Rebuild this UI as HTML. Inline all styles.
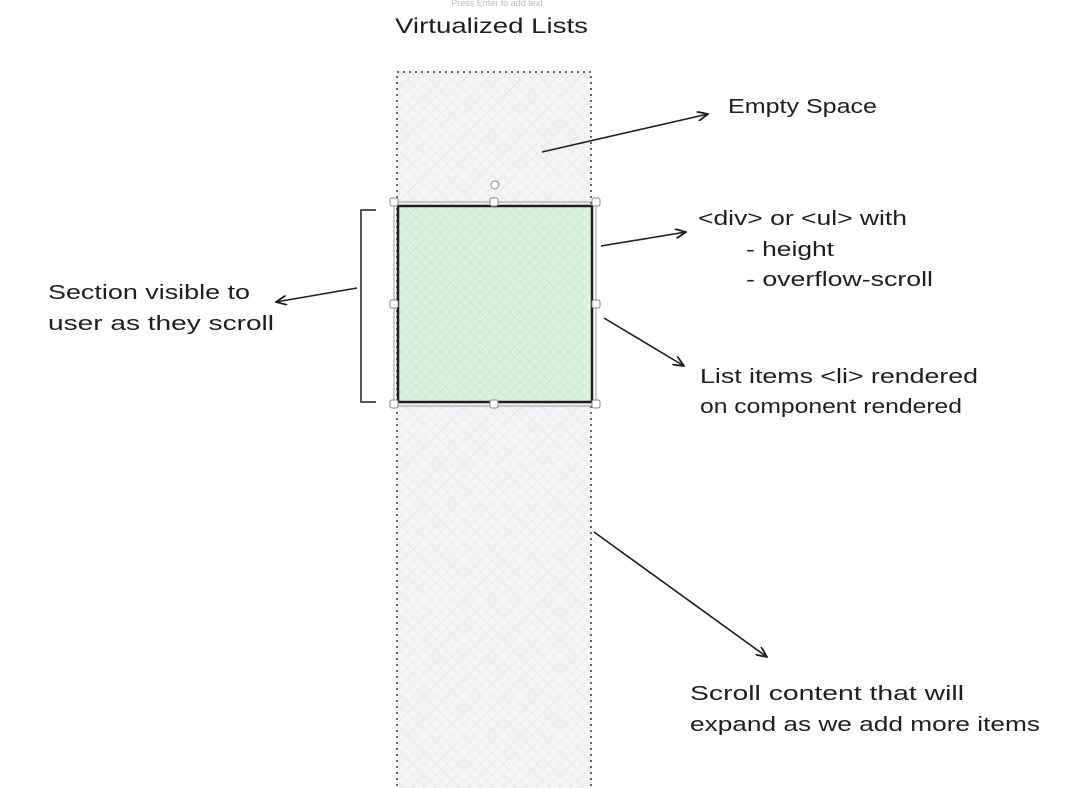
<!DOCTYPE html>
<html><head><meta charset="utf-8"><style>
html,body{margin:0;padding:0;background:#fff;}
body{width:1090px;height:788px;overflow:hidden;position:relative;font-family:"Liberation Sans",sans-serif;}
svg{position:absolute;left:0;top:0;}
</style></head><body>
<svg width="1090" height="788" viewBox="0 0 1090 788">
<defs>
<pattern id="hg" width="8" height="8" patternUnits="userSpaceOnUse" patternTransform="rotate(45)">
<rect width="8" height="8" fill="#f4f4f6"/><line x1="0" y1="0" x2="0" y2="8" stroke="#e2e2e6" stroke-width="1"/><line x1="0" y1="0" x2="8" y2="0" stroke="#e2e2e6" stroke-width="1"/></pattern>
<pattern id="gg" width="7" height="7" patternUnits="userSpaceOnUse" patternTransform="rotate(45)">
<rect width="7" height="7" fill="#dcf3e0"/><line x1="0" y1="0" x2="0" y2="7" stroke="#c3e8ca" stroke-width="1.2"/><line x1="0" y1="0" x2="7" y2="0" stroke="#c3e8ca" stroke-width="1.2"/></pattern>
<marker id="ah" markerWidth="12" markerHeight="10" refX="11" refY="5" orient="auto" markerUnits="userSpaceOnUse"><path d="M0,0 L11,5 L0,10" fill="none" stroke="#1e1e1e" stroke-width="1.8"/></marker>
</defs>
<text x="497" y="6" font-size="9" fill="#bbb" text-anchor="middle">Press Enter to add text</text>
<text x="395" y="33" font-size="21" fill="#1e1e1e" textLength="193" lengthAdjust="spacingAndGlyphs">Virtualized Lists</text>
<rect x="397" y="72" width="194" height="730" fill="url(#hg)" stroke="#333" stroke-width="1.5" stroke-dasharray="2,4"/>
<rect x="398" y="206" width="194" height="196" fill="url(#gg)" stroke="#1e1e1e" stroke-width="2.5"/>
<rect x="394" y="202" width="202" height="204" fill="none" stroke="#999" stroke-width="1"/>
<g fill="#fff" stroke="#888" stroke-width="1">
<rect x="390" y="198" width="8" height="8" rx="2"/><rect x="490" y="198" width="8" height="8" rx="2"/><rect x="592" y="198" width="8" height="8" rx="2"/>
<rect x="390" y="300" width="8" height="8" rx="2"/><rect x="592" y="300" width="8" height="8" rx="2"/>
<rect x="390" y="400" width="8" height="8" rx="2"/><rect x="490" y="400" width="8" height="8" rx="2"/><rect x="592" y="400" width="8" height="8" rx="2"/>
<circle cx="495" cy="185" r="4"/>
</g>
<path d="M376,210 L361,210 L361,402 L376,402" fill="none" stroke="#1e1e1e" stroke-width="1.5"/>
<g stroke="#1e1e1e" stroke-width="1.6" fill="none" marker-end="url(#ah)">
<line x1="542" y1="152" x2="708" y2="114"/>
<line x1="601" y1="246" x2="686" y2="232"/>
<line x1="604" y1="318" x2="684" y2="366"/>
<line x1="357" y1="288" x2="276" y2="302"/>
<line x1="594" y1="532" x2="767" y2="657"/>
</g>
<g font-size="20" fill="#1e1e1e" lengthAdjust="spacingAndGlyphs">
<text x="728" y="113" textLength="149" lengthAdjust="spacingAndGlyphs">Empty Space</text>
<text x="698" y="225" textLength="209" lengthAdjust="spacingAndGlyphs">&lt;div&gt; or &lt;ul&gt; with</text>
<text x="746" y="256" textLength="88" lengthAdjust="spacingAndGlyphs">- height</text>
<text x="746" y="286" textLength="187" lengthAdjust="spacingAndGlyphs">- overflow-scroll</text>
<text x="48" y="299" textLength="202" lengthAdjust="spacingAndGlyphs">Section visible to</text>
<text x="48" y="330" textLength="226" lengthAdjust="spacingAndGlyphs">user as they scroll</text>
<text x="700" y="383" textLength="278" lengthAdjust="spacingAndGlyphs">List items &lt;li&gt; rendered</text>
<text x="700" y="413" textLength="262" lengthAdjust="spacingAndGlyphs">on component rendered</text>
<text x="690" y="700" textLength="274" lengthAdjust="spacingAndGlyphs">Scroll content that will</text>
<text x="690" y="731" textLength="350" lengthAdjust="spacingAndGlyphs">expand as we add more items</text>
</g>
</svg>
</body></html>
